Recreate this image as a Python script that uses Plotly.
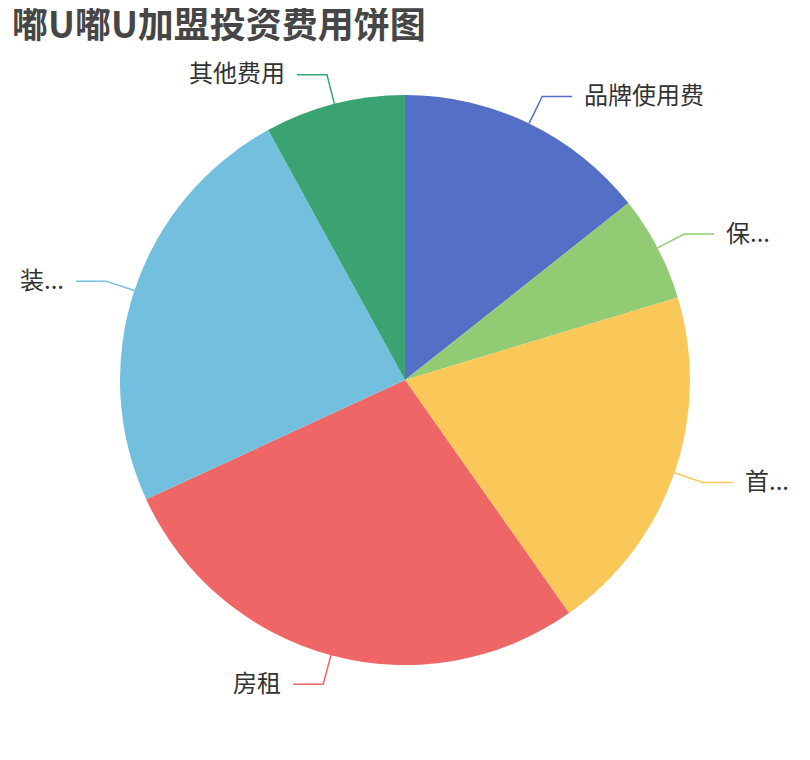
import math
import plotly.graph_objects as go

# slice data (clockwise from 12 o'clock)
names = ["品牌使用费", "保证金", "首批进货", "房租", "装修费", "其他费用"]
shown = ["品牌使用费", "保...", "首...", "房租", "装...", "其他费用"]
values = [36000, 15000, 50000, 70000, 60000, 20000]
colors = ["#5470c6", "#91cc75", "#fac858", "#ee6666", "#73c0de", "#3ba272"]

W, H = 810, 760
OFF = 8  # page body margin
cx, cy, R = 405 - OFF, 380 - OFF, 285
len1, len2, gap = 30, 30, 10

fig = go.Figure()
fig.add_trace(go.Pie(
    labels=names,
    values=values,
    sort=False,
    direction="clockwise",
    rotation=0,
    marker=dict(colors=colors, line=dict(width=0)),
    textinfo="none",
    hoverinfo="label+value+percent",
    showlegend=False,
    domain=dict(x=[(cx - R) / W, (cx + R) / W], y=[1 - (cy + R) / H, 1 - (cy - R) / H]),
))

# leader lines + labels, placed from each slice's mid angle
total = sum(values)
acc = 0
shapes, annots = [], []
for name, txt, v, c in zip(names, shown, values, colors):
    mid = (acc + v / 2) / total * 2 * math.pi
    acc += v
    sx, sy = math.sin(mid), -math.cos(mid)
    x0, y0 = cx + R * sx, cy + R * sy
    x1, y1 = cx + (R + len1) * sx, cy + (R + len1) * sy
    side = 1 if sx >= 0 else -1
    x2 = x1 + side * len2
    shapes.append(dict(type="path", xref="x", yref="y",
                       path=f"M{x0},{y0} L{x1},{y1} L{x2},{y1}",
                       line=dict(color=c, width=1.5)))
    annots.append(dict(x=x2 + side * gap, y=y1, xref="x", yref="y", text=txt,
                       showarrow=False, xanchor="left" if side > 0 else "right",
                       yanchor="middle", yshift=3,
                       font=dict(size=24, color="#333333")))

fig.update_layout(
    width=W, height=H,
    margin=dict(l=0, r=0, t=0, b=0),
    paper_bgcolor="white", plot_bgcolor="rgba(0,0,0,0)",
    font=dict(family="Noto Sans CJK SC"),
    title=dict(text="<b>嘟U嘟U加盟投资费用饼图</b>", x=(12 - OFF) / W, xanchor="left",
               y=1 - (25 - OFF) / H, yanchor="middle",
               font=dict(size=36, color="#464646", family="Noto Sans CJK SC")),
    xaxis=dict(range=[0, W], visible=False, fixedrange=True),
    yaxis=dict(range=[H, 0], visible=False, fixedrange=True),
    shapes=shapes,
    annotations=annots,
)

fig.write_html("out.html")
